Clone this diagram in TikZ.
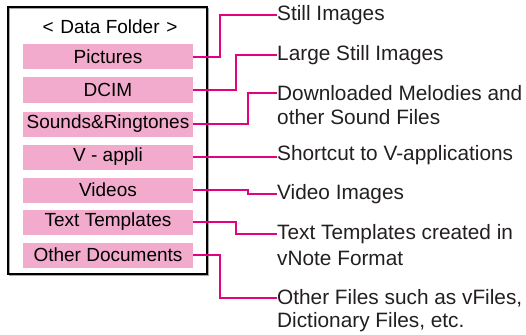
\documentclass[tikz,border=0pt]{standalone}
\usepackage{fontspec}
\setmainfont{Liberation Sans}
\usetikzlibrary{positioning}
\definecolor{linkpink}{HTML}{E5007F}
\definecolor{barpink}{HTML}{F3ABCD}
\definecolor{labelgray}{HTML}{231F20}
\tikzset{
  folderitem/.style={fill=barpink, minimum width=170pt, minimum height=25pt,
    inner sep=0pt, font=\fontsize{19}{21}\selectfont},
  infolabel/.style={anchor=west, inner sep=0pt, text=labelgray,
    font=\fontsize{20.8}{24}\selectfont},
  link/.style={draw=linkpink, line width=2pt},
}
\begin{document}
\begin{tikzpicture}[x=1pt,y=-1pt]
  \useasboundingbox (0,0) rectangle (526,334);

  %% Folder frame
  \draw[black!35, line width=1.5pt] (9.5,8.5) rectangle (208.5,275.5);
  \draw[line width=2pt] (8,7) rectangle (207,274);
  \node[font=\fontsize{19}{21}\selectfont] (title) at (110,27)
    {<\hspace{0.35em}Data Folder\hspace{0.35em}>};

  %% Folder items
  \foreach \name/\y/\txt in {pic/57/Pictures, dcim/90/DCIM,
                            snd/124/Sounds\&Ringtones, app/157/V - appli,
                            vid/190/Videos, tpl/222/Text Templates,
                            oth/255/Other Documents}{
    \node[folderitem] (\name) at (108,\y) {\txt};
  }

  %% Descriptions
  \node[infolabel] (still) at (277,15) {Still Images};
  \node[infolabel] (large) at (277,55) {Large Still Images};
  \node[infolabel] (melody) at (277,93) {Downloaded Melodies and};
  \node[infolabel] (melody2) at (277,117) {other Sound Files};
  \node[infolabel] (shortcut) at (277,155) {Shortcut to V-applications};
  \node[infolabel] (video) at (277,194) {Video Images};
  \node[infolabel] (note) at (277,234) {Text Templates created in};
  \node[infolabel] (note2) at (277,258) {vNote Format};
  \node[infolabel] (files) at (277,298) {Other Files such as vFiles,};
  \node[infolabel] (files2) at (277,322) {Dictionary Files, etc.};

  %% Connectors
  \coordinate (colA) at (220,0);
  \coordinate (colB) at (236,0);
  \coordinate (colC) at (248,0);
  \draw[link] (pic.east) -| (colA |- still.west) -- (still.west);
  \draw[link] (dcim.east) -| (colB |- large.west) -- (large.west);
  \draw[link] (snd.east) -| (colC |- melody.west) -- (melody.west);
  \draw[link] (app.east) -- (app.east -| shortcut.west);
  \draw[link] (vid.east) -| (colC |- video.west) -- (video.west);
  \draw[link] (tpl.east) -| (colB |- note.west) -- (note.west);
  \draw[link] (oth.east) -| (colA |- files.west) -- (files.west);
\end{tikzpicture}
\end{document}
